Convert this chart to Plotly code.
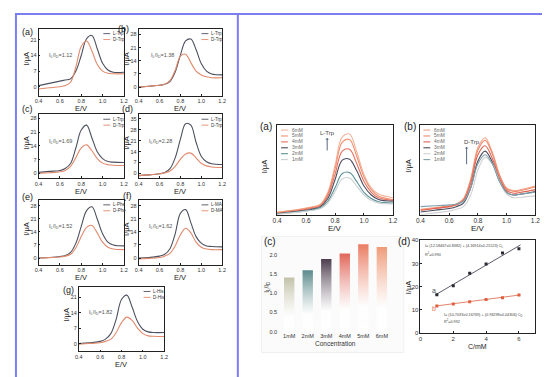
import plotly.graph_objects as go

W, H = 550, 377

# ---------------- data ----------------
E = [0.4, 0.5, 0.6, 0.65, 0.7, 0.75, 0.8, 0.85, 0.9, 0.95, 1.0, 1.05, 1.1, 1.2]

# left panel: L / D enantiomer DPV curves (I/uA)
a_L = [0.5, 1.5, 2.5, 3.0, 3.5, 7, 14, 21.5, 23, 17, 10.5, 7.5, 6.5, 6.5]
a_D = [-1, -0.5, 0, 0.5, 2, 9, 18, 20.5, 16, 10, 7, 6, 5.8, 5.8]
b_L = [0, 0.5, 1, 1.5, 3, 8, 17, 24.5, 25.5, 20, 12.5, 8.5, 7, 6.5]
b_D = [0, 0.5, 1, 1.5, 3.5, 9, 16.5, 17.5, 13, 8.5, 6.5, 5.5, 5, 5]
c_L = [0.5, 1, 1.5, 2.5, 5, 13, 22, 24.5, 18, 11, 7.5, 6, 5.7, 5.5]
c_D = [0, 0.3, 0.8, 1.5, 3.5, 8, 13, 14.5, 11.5, 7.5, 5.2, 4.4, 4.1, 4]
d_L = [-1.5, -1, -0.3, 0.5, 3, 10, 22, 32, 31, 20, 11, 7.5, 6.2, 5.7]
d_D = [-1.5, -1, -0.3, 0.3, 1.5, 4.5, 9, 12.5, 13, 10, 6.5, 4.8, 4.1, 3.8]
e_L = [0, 0.3, 0.8, 1.3, 3, 8, 17, 25.5, 27.5, 21, 13, 8.5, 7, 6.5]
e_D = [0, 0.2, 0.5, 1, 2, 5.5, 11.5, 16.5, 17.5, 13.5, 8.5, 5.8, 4.8, 4.5]
f_L = [0, 0.3, 1, 2, 5, 13, 24, 26, 19, 11.5, 8, 6.5, 6.2, 6]
f_D = [-0.5, -0.2, 0.3, 1, 2.5, 6.5, 12.5, 16, 13.5, 8.5, 5.8, 4.8, 4.5, 4.5]
g_L = [0, 0.3, 1, 2, 4.5, 11, 20, 22, 16.5, 10, 6.5, 5.3, 5, 5]
g_D = [-0.3, 0, 0.4, 1, 2, 5, 9.5, 12, 10.5, 7, 4.5, 3.5, 3.3, 3.2]

left_names = [("L-Trp", "D-Trp"), ("L-Trp", "D-Trp"), ("L-Trp", "D-Trp"), ("L-Trp", "D-Trp"),
              ("L-Phe", "D-Phe"), ("L-MA", "D-MA"), ("L-His", "D-His")]
left_ratio = ["1.12", "1.38", "1.69", "2.28", "1.52", "1.62", "1.82"]
left_letters = ["(a)", "(b)", "(c)", "(d)", "(e)", "(f)", "(g)"]
left_yticks = [[0, 7, 14, 21], [0, 7, 14, 21, 28], [0, 7, 14, 21, 28], [0, 7, 14, 21, 28, 35],
               [0, 7, 14, 21, 28], [0, 7, 14, 21, 28], [0, 7, 14, 21]]

# right (a): L-Trp, 1..6 mM (arbitrary units)
conc = ["6mM", "5mM", "4mM", "3mM", "2mM", "1mM"]
rL_6 = [3, 5, 7.5, 9, 12, 25, 55, 87, 90, 70, 45, 30, 23, 19]
rL_5 = [2.5, 4.5, 7, 8.5, 11, 23, 51, 81, 84, 65, 42, 28, 21, 17]
rL_4 = [1.5, 3.5, 6, 7.5, 10, 21, 45, 71, 73, 57, 37, 25, 19, 16]
rL_3 = [1, 3, 5, 6.5, 9, 18, 39, 61, 62, 49, 32, 22, 17, 15]
rL_2 = [1, 2.5, 4.5, 5.5, 8, 15, 30, 46, 47, 37, 25, 18, 14.5, 13]
rL_1 = [0.5, 2, 4, 5, 7, 13, 26, 40, 41, 32, 22, 16, 13, 12]
# right (b): D-Trp, 1..6 mM
rD_6 = [6, 8, 10, 12, 18, 40, 75, 86, 70, 45, 30, 27, 28, 32]
rD_5 = [5, 7, 9, 11, 17, 38, 72, 83, 68, 44, 29, 26, 27, 31]
rD_4 = [5, 7, 9, 11, 16, 35, 67, 77, 63, 41, 27, 24, 25, 28]
rD_3 = [3, 5, 7, 9, 13, 30, 60, 71, 59, 38, 25, 22, 23, 26]
rD_2 = [0, 2, 4, 6, 9, 22, 50, 64, 57, 38, 23, 19, 19.5, 21]
rD_1 = [9, 10, 11, 12, 15, 30, 57, 67, 57, 37, 25, 22, 23, 25]

# right (c): IL/ID vs concentration
bar_cats = ["1mM", "2mM", "3mM", "4mM", "5mM", "6mM"]
bar_vals = [1.41, 1.60, 1.89, 2.03, 2.27, 2.20]

# right (d): peak current vs concentration
cmm = [1, 2, 3, 4, 5, 6]
Ia = [16.5, 20.3, 25.7, 29.7, 34.5, 36.3]
Ib = [11.6, 12.5, 13.4, 14.4, 15.1, 16.3]
fit_a = (12.58467, 4.16914)
fit_b = (10.7033, 0.93298)

# ---------------- styling ----------------
FONT = "Arial"
L_COL = "#4d515e"
D_COL = "#e2896b"
rL_cols = ["#f5b49a", "#f0906f", "#e8705e", "#4a4c5e", "#5b9097", "#c9d0d0"]
rD_cols = ["#f2a486", "#ee8b70", "#e0604f", "#4a4c5e", "#d2d2d2", "#7fa0aa"]
bar_cols = ["#c3c3aa", "#5c8a8c", "#4e3e4f", "#e2675b", "#ea7c62", "#ef9b7a"]

fig = go.Figure()
annotations = []
shapes = []


def X(x):
    return x / W


def Y(y):
    return 1 - y / H


def ann(x, y, text, size=6, color="#333", xanchor="center", yanchor="middle", angle=0):
    annotations.append(dict(x=X(x), y=Y(y), xref="paper", yref="paper", text=text,
                            showarrow=False, xanchor=xanchor, yanchor=yanchor, textangle=angle,
                            font=dict(family=FONT, size=size, color=color)))


def hline(x0, x1, y, color, width=1.2):
    shapes.append(dict(type="line", xref="paper", yref="paper", x0=X(x0), x1=X(x1),
                       y0=Y(y), y1=Y(y), line=dict(color=color, width=width)))


def set_axes(n, box, xr, yr, xt=None, yt=None, xtext=None, ytext=None, tick_size=6,
             mirror=True, showline=True):
    x0, y0, x1, y1 = box
    suf = "" if n == 1 else str(n)
    fig.layout["xaxis" + suf] = dict(domain=[X(x0), X(x1)], anchor="y" + suf, range=xr,
                                     tickvals=xt, ticktext=xtext, showgrid=False, zeroline=False,
                                     showline=showline, linecolor="#222", linewidth=0.8,
                                     mirror=mirror, ticks="inside" if showline else "",
                                     ticklen=2, tickwidth=0.6, tickcolor="#222",
                                     tickfont=dict(family=FONT, size=tick_size, color="#333"))
    fig.layout["yaxis" + suf] = dict(domain=[Y(y1), Y(y0)], anchor="x" + suf, range=yr,
                                     tickvals=yt if yt is not None else [],
                                     ticktext=ytext, showgrid=False, zeroline=False,
                                     showline=showline, linecolor="#222", linewidth=0.8,
                                     mirror=mirror, ticks="inside" if showline else "",
                                     ticklen=2, tickwidth=0.6, tickcolor="#222",
                                     tickfont=dict(family=FONT, size=tick_size, color="#333"))


def add_line(n, x, y, color, width=1.1):
    suf = "" if n == 1 else str(n)
    fig.add_trace(go.Scatter(x=x, y=y, mode="lines", xaxis="x" + suf, yaxis="y" + suf,
                             line=dict(color=color, width=width, shape="spline", smoothing=1.0),
                             showlegend=False, hoverinfo="skip"))


# ---------------- left panel ----------------
left_boxes = [(26, 18, 113, 86), (128, 18, 213, 86), (26, 105, 113, 170), (128, 105, 213, 170),
              (26, 192, 113, 258), (128, 192, 213, 258), (67, 280, 154, 346)]
left_yr = [[-4, 26], [-4.5, 31], [-2.5, 30], [-3.2, 38], [-3.7, 31.2], [-3.7, 31.2], [-3.6, 25.9]]
left_L = [a_L, b_L, c_L, d_L, e_L, f_L, g_L]
left_D = [a_D, b_D, c_D, d_D, e_D, f_D, g_D]
ratio_pos = [(48, 45), (152, 45), (48, 133), (150, 133), (48, 219), (150, 219), (89, 306)]
letter_pos = [(15, 21), (113, 18), (15, 100), (117, 100), (15, 189), (117, 188), (57, 284)]

for i in range(7):
    n = i + 1
    box = left_boxes[i]
    set_axes(n, box, [0.4, 1.2], left_yr[i], xt=[0.4, 0.6, 0.8, 1.0, 1.2],
             xtext=["0.4", "0.6", "0.8", "1.0", "1.2"], yt=left_yticks[i], tick_size=5.5)
    add_line(n, E, left_L[i], L_COL)
    add_line(n, E, left_D[i], D_COL)
    x0, y0, x1, y1 = box
    # legend
    hline(x1 - 21, x1 - 14, y0 + 5, L_COL, 0.9)
    hline(x1 - 21, x1 - 14, y0 + 11, D_COL, 0.9)
    ann(x1 - 13, y0 + 5, left_names[i][0], size=4.5, xanchor="left")
    ann(x1 - 13, y0 + 11, left_names[i][1], size=4.5, xanchor="left")
    # labels
    lx, ly = letter_pos[i]
    ann(lx, ly, left_letters[i], size=9, color="#222")
    ann(x0 - 12.5, (y0 + y1) / 2 - 4, "I/μA", size=7.5, color="#222", angle=-90)
    ann((x0 + x1) / 2, y1 + 13, "E/V", size=7.5, color="#222")
    rx, ry = ratio_pos[i]
    ann(rx, ry, "I<sub>L</sub>/I<sub>D</sub>=" + left_ratio[i], size=5.5, color="#555")

# ---------------- right (a) and (b) ----------------
ra_box = (269, 116, 387, 207)
rb_box = (415, 116, 532, 207)
rx_t = [0.4, 0.6, 0.8, 1.0, 1.2]
rx_tt = ["0.4", "0.6", "0.8", "1.0", "1.2"]
set_axes(8, ra_box, [0.4, 1.2], [0, 100], xt=rx_t, xtext=rx_tt, yt=[], tick_size=6.5)
set_axes(9, rb_box, [0.4, 1.2], [0, 100], xt=rx_t, xtext=rx_tt, yt=[], tick_size=6.5)

rL_series = [rL_6, rL_5, rL_4, rL_3, rL_2, rL_1]
rD_series = [rD_6, rD_5, rD_4, rD_3, rD_2, rD_1]
for k in range(6):
    add_line(8, E, rL_series[k], rL_cols[k], 1.1)
    add_line(9, E, rD_series[k], rD_cols[k], 1.1)

for k in range(6):
    yk = 121 + k * 6
    hline(273, 280, yk, rL_cols[k], 1.1)
    ann(282, yk, conc[k], size=4.8, color="#666", xanchor="left")
    hline(418, 425, yk, rD_cols[k], 1.1)
    ann(427, yk, conc[k], size=4.8, color="#666", xanchor="left")

for box, letter in [(ra_box, "(a)"), (rb_box, "(b)")]:
    x0, y0, x1, y1 = box
    ann(x0 - 11, y0 + 1, letter, size=10, color="#222")
    ann(x0 - 12, (y0 + y1) / 2 - 4, "I/μA", size=7.5, color="#222", angle=-90)
    ann((x0 + x1) / 2, y1 + 14, "E/V", size=8, color="#222")

ann(320, 124, "L-Trp", size=6, color="#444")
annotations.append(dict(x=X(320), y=Y(129), ax=0, ay=14, xref="paper", yref="paper",
                        axref="pixel", ayref="pixel", showarrow=True, arrowhead=1,
                        arrowsize=0.6, arrowwidth=1, arrowcolor="#5a6a80", text=""))
ann(467, 133, "D-Trp", size=6, color="#444")
annotations.append(dict(x=X(462), y=Y(138), ax=0, ay=19, xref="paper", yref="paper",
                        axref="pixel", ayref="pixel", showarrow=True, arrowhead=1,
                        arrowsize=0.6, arrowwidth=1, arrowcolor="#5a6a80", text=""))

# ---------------- right (c) bars ----------------
shapes.append(dict(type="rect", xref="paper", yref="paper", x0=X(253), x1=X(398), y0=Y(347),
                   y1=Y(229), fillcolor="#fbfbfb", line=dict(color="#ececec", width=0.8),
                   layer="below"))
rc_box = (270, 232, 387, 326)
set_axes(10, rc_box, [-0.6, 5.6], [0, 2.4], xt=list(range(len(bar_cats))), xtext=bar_cats,
         yt=[0, 0.5, 1.0, 1.5, 2.0], ytext=["0.0", "0.5", "1.0", "1.5", "2.0"],
         tick_size=5.5, mirror=False, showline=False)
bw = 0.56
for i, v in enumerate(bar_vals):
    fig.add_trace(go.Scatter(
        x=[i - bw / 2, i - bw / 2, i + bw / 2, i + bw / 2, i - bw / 2],
        y=[0, v, v, 0, 0], mode="lines", fill="toself", xaxis="x10", yaxis="y10",
        line=dict(width=0, color="rgba(0,0,0,0)"),
        fillgradient=dict(type="vertical", start=0, stop=v,
                          colorscale=[[0, "rgba(255,255,255,0.95)"], [0.3, "rgba(255,255,255,0.7)"],
                                      [1, bar_cols[i]]]),
        showlegend=False, hoverinfo="skip"))
ann(262, 234, "(c)", size=10, color="#222")
ann(258, 280, "I<sub>L</sub>/I<sub>D</sub>", size=6.5, color="#333", angle=-90)
ann(328.5, 338, "Concentration", size=6.5, color="#333")

# ---------------- right (d) linear fits ----------------
rd_box = (415, 233, 532, 327)
set_axes(11, rd_box, [0, 7], [0, 40], xt=[0, 2, 4, 6], xtext=["0", "2", "4", "6"],
         yt=[0, 10, 20, 30, 40], ytext=["0", "10", "20", "30", "40"], tick_size=6)
xf = [0.9, 6.1]
fig.add_trace(go.Scatter(x=xf, y=[fit_a[0] + fit_a[1] * v for v in xf], mode="lines",
                         xaxis="x11", yaxis="y11", line=dict(color="#4a4c5e", width=0.9),
                         showlegend=False, hoverinfo="skip"))
fig.add_trace(go.Scatter(x=xf, y=[fit_b[0] + fit_b[1] * v for v in xf], mode="lines",
                         xaxis="x11", yaxis="y11", line=dict(color="#e0755a", width=0.9),
                         showlegend=False, hoverinfo="skip"))
fig.add_trace(go.Scatter(x=cmm, y=Ia, mode="markers", xaxis="x11", yaxis="y11",
                         marker=dict(symbol="square", size=3, color="#2a2a35"),
                         showlegend=False, hoverinfo="skip"))
fig.add_trace(go.Scatter(x=cmm, y=Ib, mode="markers", xaxis="x11", yaxis="y11",
                         marker=dict(symbol="square", size=3, color="#e0603f"),
                         showlegend=False, hoverinfo="skip"))
ann(398, 234, "(d)", size=10, color="#222")
ann(403, 281, "I/μA", size=7.5, color="#222", angle=-90)
ann(473, 341, "C/mM", size=7, color="#222")
ann(418, 239, "I= (12.58467±0.8382) + (4.16914±0.21523) C<sub>L</sub>", size=3.8,
    color="#444", xanchor="left")
ann(418, 247, "R<sup>2</sup>=0.990", size=3.8, color="#444", xanchor="left")
ann(437, 309, "I= (10.7033±0.16769) + (0.93298±0.04306) C<sub>D</sub>", size=3.8,
    color="#444", xanchor="left")
ann(437, 315, "R<sup>2</sup>=0.992", size=3.8, color="#444", xanchor="left")
ann(429, 284, "a", size=7, color="#555")
ann(429, 302, "b", size=7, color="#e0755a")

# ---------------- frame ----------------
shapes.append(dict(type="rect", xref="paper", yref="paper", x0=X(3), x1=X(547), y0=Y(374),
                   y1=Y(3), line=dict(color="#7d7df2", width=2), fillcolor="rgba(0,0,0,0)"))
shapes.append(dict(type="line", xref="paper", yref="paper", x0=X(229), x1=X(229), y0=Y(374),
                   y1=Y(3), line=dict(color="#7d7df2", width=2)))

fig.update_layout(width=W, height=H, margin=dict(l=0, r=0, t=0, b=0),
                  paper_bgcolor="white", plot_bgcolor="rgba(0,0,0,0)",
                  showlegend=False, annotations=annotations, shapes=shapes,
                  font=dict(family=FONT))
fig.write_html("out.html")
